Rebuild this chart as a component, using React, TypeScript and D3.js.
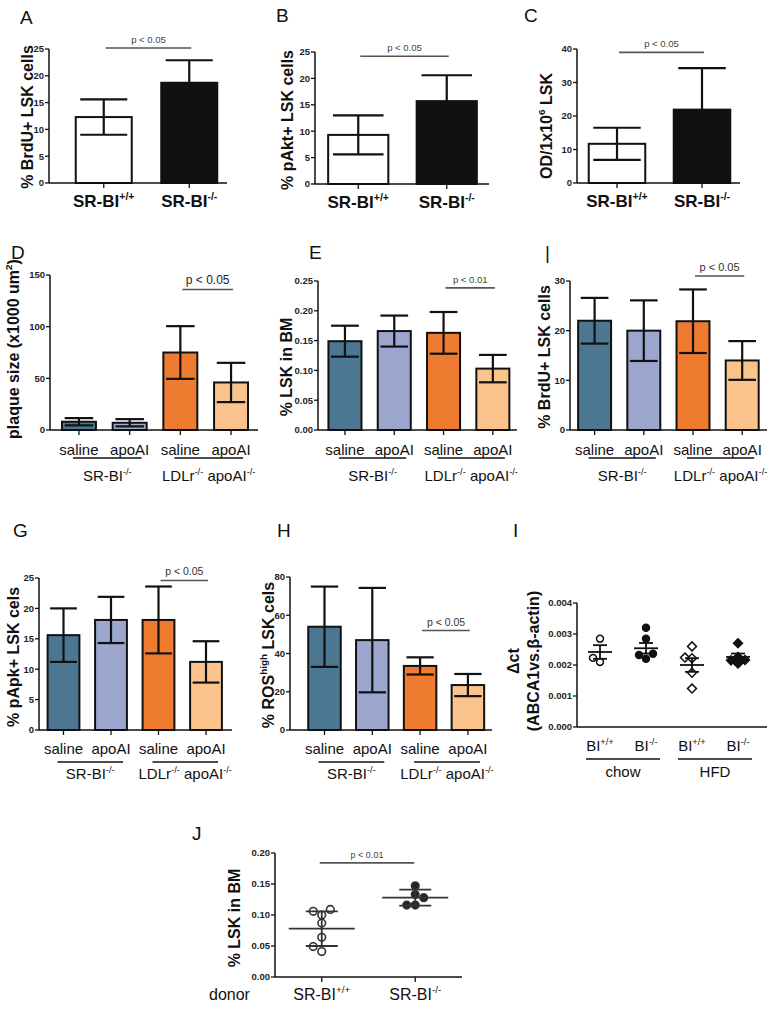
import React from 'react';
import * as d3 from 'd3';

const FONT = '"Liberation Sans", Arial, Helvetica, sans-serif';
const BAR_FILLS = ['#4b7793', '#9ca6cf', '#ee7b30', '#fbc48c'];

// ---- data ----
const genotypes = ['SR-BI^{+/+}', 'SR-BI^{-/-}'];
const brduMean = [12.3, 18.7];
const brduSd = [3.3, 4.2];
const pAktMean = [9.3, 15.7];
const pAktSd = [3.7, 4.9];
const odMean = [11.7, 21.9];
const odSd = [4.8, 12.4];

const treatments = ['saline', 'apoAI', 'saline', 'apoAI'];
const models = ['SR-BI^{-/-}', 'LDLr^{-/-} apoAI^{-/-}'];
const plaqueMean = [8, 7, 75, 46];
const plaqueSd = [3.5, 3.5, 25.5, 19];
const lskMean = [0.149, 0.166, 0.163, 0.103];
const lskSd = [0.026, 0.026, 0.035, 0.023];
const brdu2Mean = [22.0, 20.0, 21.9, 14.0];
const brdu2Sd = [4.6, 6.1, 6.4, 3.9];
const pApkMean = [15.6, 18.1, 18.1, 11.2];
const pApkSd = [4.4, 3.8, 5.5, 3.4];
const rosMean = [54, 47, 33.5, 23.5];
const rosSd = [21, 27.3, 4.5, 5.8];

const abcaGroups = ['BI^{+/+}', 'BI^{-/-}', 'BI^{+/+}', 'BI^{-/-}'];
const diets = ['chow', 'HFD'];
const abcaChowWt = [0.00285, 0.00223, 0.0021];
const abcaChowKo = [0.0032, 0.00285, 0.00236, 0.00232, 0.0022];
const abcaHfdWt = [0.0026, 0.00224, 0.00222, 0.00175, 0.00124];
const abcaHfdKo = [0.0027, 0.00226, 0.00216, 0.00215, 0.00205];
const abcaMean = [0.00242, 0.00254, 0.002, 0.00226];
const abcaSem = [0.00022, 0.00017, 0.00022, 0.00011];

const donors = ['SR-BI^{+/+}', 'SR-BI^{-/-}'];
const donorWt = [0.109, 0.106, 0.1, 0.087, 0.064, 0.049, 0.041];
const donorKo = [0.147, 0.133, 0.128, 0.116, 0.116];
const donorMean = [0.078, 0.128];
const donorSd = [0.028, 0.013];

// "SR-BI^{+/+}" -> plain / superscript pieces
function split(s: string) {
  const out: { t: string; sup: boolean }[] = [];
  const re = /\^\{([^}]*)\}/g;
  let last = 0;
  let m: RegExpExecArray | null;
  while ((m = re.exec(s))) {
    if (m.index > last) out.push({ t: s.slice(last, m.index), sup: false });
    out.push({ t: m[1], sup: true });
    last = re.lastIndex;
  }
  if (last < s.length) out.push({ t: s.slice(last), sup: false });
  return out;
}

function Rich({ s, x, y, size, weight = 'normal', anchor = 'middle', rotate = false, fill = '#111' }: any) {
  let up = false;
  return (
    <text x={x} y={y} fontSize={size} fontWeight={weight} textAnchor={anchor} fill={fill}
      fontFamily={FONT} transform={rotate ? `rotate(-90 ${x} ${y})` : undefined}>
      {split(s).map((p, i) => {
        let dy = 0;
        if (p.sup && !up) { dy = -size * 0.42; up = true; }
        else if (!p.sup && up) { dy = size * 0.42; up = false; }
        return <tspan key={i} dy={dy} fontSize={p.sup ? size * 0.62 : size}>{p.t}</tspan>;
      })}
    </text>
  );
}

function YAxis({ x, y, ticks, fmt }: any) {
  const f = d3.format(fmt);
  const [a, b] = y.range();
  return (
    <g>
      <line x1={x} x2={x} y1={a} y2={b} stroke="#111" strokeWidth={1.5} />
      {ticks.map((t: number, i: number) => (
        <g key={i}>
          <line x1={x - 4} x2={x} y1={y(t)} y2={y(t)} stroke="#111" strokeWidth={1.3} />
          <text x={x - 5} y={y(t)} dy="0.35em" textAnchor="end" fontSize={9.5} fontWeight="bold"
            fill="#222" fontFamily={FONT}>{f(t)}</text>
        </g>
      ))}
    </g>
  );
}

function PLine({ x1, x2, y, text, size, color }: any) {
  return (
    <g>
      <line x1={x1} x2={x2} y1={y} y2={y} stroke="#555" strokeWidth={1.6} />
      <text x={(x1 + x2) / 2} y={y - 5} textAnchor="middle" fontSize={size} fill={color}
        fontFamily={FONT}>{text}</text>
    </g>
  );
}

function GroupRow({ centers, labels, names, labelY, lineY, nameY, size = 15, lo = 6, hi = 12 }: any) {
  return (
    <g>
      {labels.map((l: string, i: number) => (
        <Rich key={i} s={l} x={centers[i]} y={labelY} size={size} />
      ))}
      {names.map((n: string, g: number) => {
        const a = centers[g * 2] - lo;
        const b = centers[g * 2 + 1] + hi;
        return (
          <g key={g}>
            <line x1={a} x2={b} y1={lineY} y2={lineY} stroke="#111" strokeWidth={1.4} />
            <Rich s={n} x={(a + b) / 2} y={nameY} size={size} />
          </g>
        );
      })}
    </g>
  );
}

function BarPanel({ c }: any) {
  const n = c.mean.length;
  const x = d3.scaleBand<number>().domain(d3.range(n)).range(c.band)
    .paddingInner(c.pad).paddingOuter(c.pad / 2);
  const y = d3.scaleLinear().domain([0, c.max]).range([c.y0, c.yTop]);
  const bw = x.bandwidth();
  const cx = (i: number) => (x(i) as number) + bw / 2;
  const cap = bw * 0.42;
  const ticks = d3.range(0, c.max + c.step / 2, c.step);
  const centers = d3.range(n).map(cx);
  return (
    <g>
      <text x={c.letterXY[0]} y={c.letterXY[1]} fontSize={19} fontFamily={FONT} fill="#111">{c.letter}</text>
      <Rich s={c.title} x={c.titleXY[0] + 6} y={c.titleXY[1]} size={16} weight="bold" rotate />
      {c.mean.map((v: number, i: number) => {
        const e = c.sd[i];
        return (
          <g key={i}>
            <rect x={x(i)} y={y(v)} width={bw} height={c.y0 - y(v)} fill={c.fills[i]}
              stroke="#111" strokeWidth={2} />
            <line x1={cx(i)} x2={cx(i)} y1={y(v + e)} y2={y(Math.max(0, v - e))}
              stroke="#111" strokeWidth={2.2} />
            <line x1={cx(i) - cap} x2={cx(i) + cap} y1={y(v + e)} y2={y(v + e)} stroke="#111" strokeWidth={2.2} />
            <line x1={cx(i) - cap} x2={cx(i) + cap} y1={y(v - e)} y2={y(v - e)} stroke="#111" strokeWidth={2.2} />
          </g>
        );
      })}
      <YAxis x={c.axisX} y={y} ticks={ticks} fmt={c.fmt} />
      <line x1={c.axisX} x2={c.xEnd} y1={c.y0} y2={c.y0} stroke="#111" strokeWidth={1.5} />
      {centers.map((p: number, i: number) => (
        <line key={i} x1={p} x2={p} y1={c.y0} y2={c.y0 + 5} stroke="#111" strokeWidth={1.3} />
      ))}
      <PLine x1={cx(c.p.from) + 2} x2={cx(c.p.to) + 2} y={y(c.p.at)} text={c.p.text}
        size={c.p.size} color={c.p.color} />
      {c.groups ? (
        <GroupRow centers={centers} labels={c.cats} names={c.groups.names} labelY={c.groups.labelY}
          lineY={c.groups.lineY} nameY={c.groups.nameY} />
      ) : (
        c.cats.map((l: string, i: number) => (
          <Rich key={i} s={l} x={centers[i]} y={c.y0 + 24} size={17} weight="bold" />
        ))
      )}
    </g>
  );
}

// simple beeswarm: offsets (in px) so markers don't overlap
function swarm(vals: number[], y: (v: number) => number, step: number) {
  const order = d3.range(vals.length).sort((a, b) => vals[a] - vals[b]);
  const placed: [number, number][] = [];
  const off: number[] = new Array(vals.length).fill(0);
  const tries = [0, -step, step, -2 * step, 2 * step];
  order.forEach((i) => {
    const py = y(vals[i]);
    const dx = tries.find((t) => placed.every(([qx, qy]) => Math.hypot(qx - t, qy - py) >= step - 0.5)) ?? 0;
    placed.push([dx, py]);
    off[i] = dx;
  });
  return off;
}

function AbcaPanel() {
  const axisX = 577, y0 = 727;
  const y = d3.scaleLinear().domain([0, 0.004]).range([y0, 603]);
  const x = d3.scaleBand<number>().domain(d3.range(4)).range([577, 761]);
  const cx = (i: number) => (x(i) as number) + x.bandwidth() / 2;
  const groups = [abcaChowWt, abcaChowKo, abcaHfdWt, abcaHfdKo];
  const sq = d3.symbol(d3.symbolSquare, 40)() as string;
  const circ = d3.symbol(d3.symbolCircle, 38)() as string;
  return (
    <g>
      <text x={513} y={537} fontSize={19} fontFamily={FONT} fill="#111">I</text>
      <text x={519} y={661} transform="rotate(-90 519 661)" textAnchor="middle" fontSize={16}
        fontWeight="bold" fontFamily={FONT} fill="#111">Δct</text>
      <text x={539} y={661} transform="rotate(-90 539 661)" textAnchor="middle" fontSize={16}
        fontWeight="bold" fontFamily={FONT} fill="#111">(ABCA1vs.β-actin)</text>
      {groups.map((vals, g) => {
        const off = swarm(vals, y, 7);
        const filled = g % 2 === 1;
        const diamond = g >= 2;
        const m = abcaMean[g], s = abcaSem[g];
        return (
          <g key={g}>
            {vals.map((v, i) => (
              <path key={i} d={diamond ? sq : circ}
                transform={`translate(${cx(g) + off[i]},${y(v)})${diamond ? ' rotate(45)' : ''}`}
                fill={filled ? '#111' : '#fff'} stroke="#111" strokeWidth={1.5} />
            ))}
            <line x1={cx(g) - 12} x2={cx(g) + 12} y1={y(m)} y2={y(m)} stroke="#111" strokeWidth={1.8} />
            <line x1={cx(g)} x2={cx(g)} y1={y(m - s)} y2={y(m + s)} stroke="#111" strokeWidth={1.8} />
            <line x1={cx(g) - 7} x2={cx(g) + 7} y1={y(m - s)} y2={y(m - s)} stroke="#111" strokeWidth={1.8} />
            <line x1={cx(g) - 7} x2={cx(g) + 7} y1={y(m + s)} y2={y(m + s)} stroke="#111" strokeWidth={1.8} />
          </g>
        );
      })}
      <YAxis x={axisX} y={y} ticks={d3.range(0, 0.0045, 0.001)} fmt=".3f" />
      <line x1={axisX} x2={767} y1={y0} y2={y0} stroke="#111" strokeWidth={1.5} />
      <GroupRow centers={d3.range(4).map(cx)} labels={abcaGroups} names={diets}
        labelY={751} lineY={759} nameY={777} lo={14} hi={14} />
    </g>
  );
}

function DonorPanel() {
  const axisX = 275, y0 = 977;
  const y = d3.scaleLinear().domain([0, 0.2]).range([y0, 853]);
  const x = d3.scaleBand<number>().domain(d3.range(2)).range([275, 462]);
  const cx = (i: number) => (x(i) as number) + x.bandwidth() / 2;
  const groups = [donorWt, donorKo];
  return (
    <g>
      <text x={192} y={840} fontSize={19} fontFamily={FONT} fill="#111">J</text>
      <Rich s="% LSK in BM" x={240} y={918} size={16} weight="bold" rotate />
      {groups.map((vals, g) => {
        const off = swarm(vals, y, 8.5);
        const m = donorMean[g], s = donorSd[g];
        return (
          <g key={g}>
            {vals.map((v, i) => (
              <circle key={i} cx={cx(g) + off[i]} cy={y(v)} r={3.8}
                fill={g === 0 ? '#fff' : '#222'} stroke="#333" strokeWidth={1.6} />
            ))}
            <line x1={cx(g) - 33} x2={cx(g) + 33} y1={y(m)} y2={y(m)} stroke="#333" strokeWidth={1.8} />
            <line x1={cx(g)} x2={cx(g)} y1={y(m - s)} y2={y(m + s)} stroke="#333" strokeWidth={1.8} />
            <line x1={cx(g) - 16} x2={cx(g) + 16} y1={y(m - s)} y2={y(m - s)} stroke="#333" strokeWidth={1.8} />
            <line x1={cx(g) - 16} x2={cx(g) + 16} y1={y(m + s)} y2={y(m + s)} stroke="#333" strokeWidth={1.8} />
          </g>
        );
      })}
      <YAxis x={axisX} y={y} ticks={d3.range(0, 0.225, 0.05)} fmt=".2f" />
      <line x1={axisX} x2={462} y1={y0} y2={y0} stroke="#111" strokeWidth={1.5} />
      {[0, 1].map((g) => (
        <line key={g} x1={cx(g)} x2={cx(g)} y1={y0} y2={y0 + 5} stroke="#111" strokeWidth={1.3} />
      ))}
      <PLine x1={cx(0) - 2} x2={cx(1) - 1} y={y(0.184)} text="p < 0.01" size={9} color="#444" />
      <text x={209} y={1000} fontSize={16} fontFamily={FONT} fill="#111">donor</text>
      {donors.map((d, g) => <Rich key={g} s={d} x={cx(g)} y={1000} size={16} />)}
    </g>
  );
}

export default function App() {
  const whiteBlack = ['#fff', '#111'];
  const panels = [
    {
      letter: 'A', letterXY: [20, 24], title: '% BrdU+ LSK cells', titleXY: [27, 117],
      axisX: 49, xEnd: 227, band: [61, 232], pad: 0.345, y0: 183, yTop: 49, max: 25, step: 5, fmt: 'd',
      mean: brduMean, sd: brduSd, fills: whiteBlack, cats: genotypes,
      p: { from: 0, to: 1, at: 25.2, text: 'p < 0.05', size: 9.5, color: '#444' },
    },
    {
      letter: 'B', letterXY: [276, 22], title: '% pAkt+ LSK cells', titleXY: [287, 120],
      axisX: 315, xEnd: 489, band: [314, 491], pad: 0.32, y0: 184, yTop: 52, max: 25, step: 5, fmt: 'd',
      mean: pAktMean, sd: pAktSd, fills: whiteBlack, cats: genotypes,
      p: { from: 0, to: 1, at: 24.2, text: 'p < 0.05', size: 9.5, color: '#444' },
    },
    {
      letter: 'C', letterXY: [524, 22], title: 'OD/1x10^{6} LSK', titleXY: [546, 126],
      axisX: 577, xEnd: 740, band: [574.5, 744.5], pad: 0.335, y0: 183, yTop: 49, max: 40, step: 10, fmt: 'd',
      mean: odMean, sd: odSd, fills: whiteBlack, cats: genotypes,
      p: { from: 0, to: 1, at: 39, text: 'p < 0.05', size: 9.5, color: '#444' },
    },
    {
      letter: 'D', letterXY: [11, 259], title: 'plaque size (x1000 um^{2})', titleXY: [13, 349],
      axisX: 50, xEnd: 258, band: [53.6, 256.4], pad: 0.33, y0: 430, yTop: 275, max: 150, step: 50, fmt: 'd',
      mean: plaqueMean, sd: plaqueSd, fills: BAR_FILLS, cats: treatments,
      p: { from: 2, to: 3, at: 136, text: 'p < 0.05', size: 12, color: '#222' },
      groups: { names: models, labelY: 455, lineY: 458, nameY: 481 },
    },
    {
      letter: 'E', letterXY: [309, 259], title: '% LSK in BM', titleXY: [286, 367],
      axisX: 318, xEnd: 517, band: [320.3, 517.5], pad: 0.33, y0: 430, yTop: 281, max: 0.25, step: 0.05, fmt: '.2f',
      mean: lskMean, sd: lskSd, fills: BAR_FILLS, cats: treatments,
      p: { from: 2, to: 3, at: 0.2385, text: 'p < 0.01', size: 9.5, color: '#444' },
      groups: { names: models, labelY: 455, lineY: 458, nameY: 481 },
    },
    {
      letter: '|', letterXY: [545, 259], title: '% BrdU+ LSK cells', titleXY: [544, 357],
      axisX: 570, xEnd: 767, band: [570, 766.8], pad: 0.33, y0: 430, yTop: 281, max: 30, step: 10, fmt: 'd',
      mean: brdu2Mean, sd: brdu2Sd, fills: BAR_FILLS, cats: treatments,
      p: { from: 2, to: 3, at: 31, text: 'p < 0.05', size: 11, color: '#333' },
      groups: { names: models, labelY: 455, lineY: 458, nameY: 481 },
    },
    {
      letter: 'G', letterXY: [13, 537], title: '% pApk+ LSK cels', titleXY: [13, 657],
      axisX: 39, xEnd: 232, band: [39.75, 229.75], pad: 0.33, y0: 730, yTop: 578, max: 25, step: 5, fmt: 'd',
      mean: pApkMean, sd: pApkSd, fills: BAR_FILLS, cats: treatments,
      p: { from: 2, to: 3, at: 24.6, text: 'p < 0.05', size: 10.5, color: '#333' },
      groups: { names: models, labelY: 754, lineY: 762, nameY: 779 },
    },
    {
      letter: 'H', letterXY: [277, 537], title: '% ROS^{high} LSK cels', titleXY: [268, 655],
      axisX: 290, xEnd: 492, band: [300.6, 491.8], pad: 0.32, y0: 730, yTop: 577, max: 80, step: 20, fmt: 'd',
      mean: rosMean, sd: rosSd, fills: BAR_FILLS, cats: treatments,
      p: { from: 2, to: 3, at: 52, text: 'p < 0.05', size: 10.5, color: '#333' },
      groups: { names: models, labelY: 754, lineY: 762, nameY: 779 },
    },
  ];
  return (
    <div style={{ position: 'absolute', left: 0, top: 0 }}>
      <svg width={781} height={1010} style={{ display: 'block', background: '#fff' }}>
        {panels.map((c, i) => <BarPanel key={i} c={c} />)}
        <AbcaPanel />
        <DonorPanel />
      </svg>
    </div>
  );
}
